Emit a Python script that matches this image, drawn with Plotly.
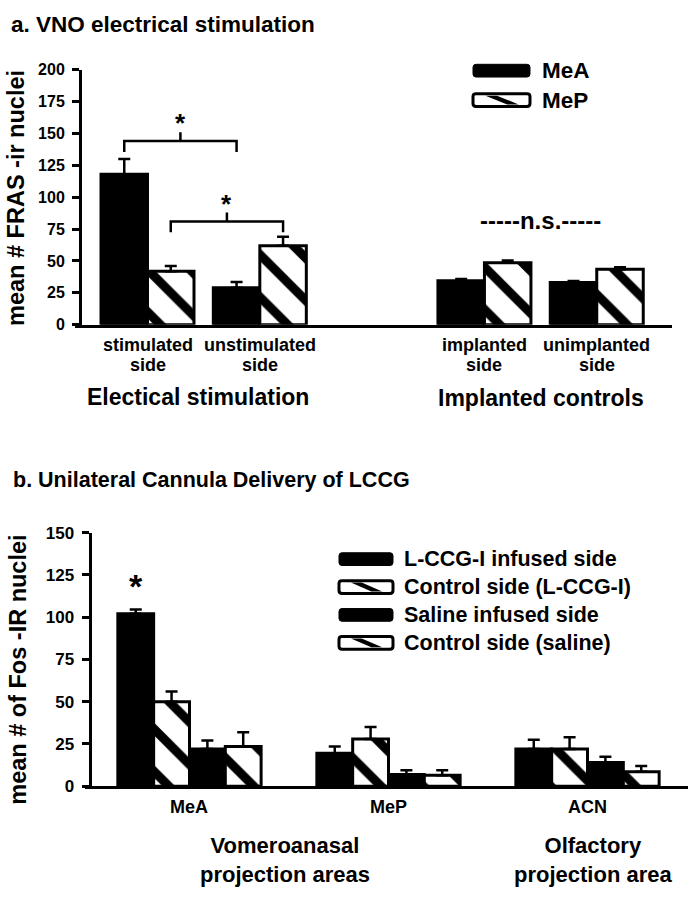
import plotly.graph_objects as go

W, H = 691, 899
FONT = "Liberation Sans, Arial, Helvetica, sans-serif"

# ---------------- data: panel a ----------------
a_groups = ["stimulated<br>side", "unstimulated<br>side", "implanted<br>side", "unimplanted<br>side"]
a_pos = [0, 1, 3, 4]
a_series = ["MeA", "MeP"]
a_mea = [118, 29, 34.5, 33]
a_mea_err = [12, 4.5, 1.3, 1.2]
a_mep = [42, 62, 48.5, 43.5]
a_mep_err = [4, 7, 1.8, 1.5]
a_ticks = [0, 25, 50, 75, 100, 125, 150, 175, 200]
a_sections = ["Electical stimulation", "Implanted controls"]
a_title = "a. VNO electrical stimulation"
a_ytitle = "mean # FRAS -ir nuclei"
# significance brackets: (group index left, group index right, series index, level)
a_sig = [(0, 1, 0, 144), (0, 1, 1, 81)]
a_ns = "-----n.s.-----"

# ---------------- data: panel b ----------------
b_groups = ["MeA", "MeP", "ACN"]
b_pos = [0, 1, 2]
b_series = ["L-CCG-I infused side", "Control side (L-CCG-I)", "Saline infused side", "Control side (saline)"]
b_lccg = [102, 19.5, 22]
b_lccg_err = [2.5, 4, 5.5]
b_ctl_lccg = [50, 28, 22]
b_ctl_lccg_err = [6, 7, 7]
b_saline = [22, 7, 14]
b_saline_err = [5, 2.5, 3.5]
b_ctl_saline = [23.5, 6.5, 8.5]
b_ctl_saline_err = [8.5, 3, 3.5]
b_ticks = [0, 25, 50, 75, 100, 125, 150]
b_sections = ["Vomeroanasal<br>projection areas", "Olfactory<br>projection area"]
b_title = "b. Unilateral Cannula Delivery of LCCG"
b_ytitle = "mean # of Fos -IR nuclei"


def px(x):
    return x / W


def py(y):
    return 1 - y / H


def bold(size):
    return dict(family=FONT, size=size, color="black", weight="bold")


solid = dict(color="black", line=dict(color="black", width=3))
striped = dict(color="white", line=dict(color="black", width=3),
               pattern=dict(shape="\\", fgcolor="black", fgopacity=1, size=30, solidity=0.3,
                            fillmode="overlay"))


def err(arr):
    return dict(type="data", array=arr, arrayminus=[0] * len(arr), symmetric=False,
                color="black", thickness=2.5, width=6)


fig = go.Figure()

# panel a bars
AW = 0.414
a_vals = [a_mea, a_mep]
a_errs = [a_mea_err, a_mep_err]
a_styles = [solid, striped]
for i, name in enumerate(a_series):
    fig.add_trace(go.Bar(x=a_pos, y=a_vals[i], name=name, width=AW, offset=-AW + i * AW,
                         marker=a_styles[i], error_y=err(a_errs[i]),
                         xaxis="x", yaxis="y", showlegend=False))

# panel b bars
BW = 0.18
b_vals = [b_lccg, b_ctl_lccg, b_saline, b_ctl_saline]
b_errs = [b_lccg_err, b_ctl_lccg_err, b_saline_err, b_ctl_saline_err]
b_styles = [solid, striped, solid, striped]
for i, name in enumerate(b_series):
    fig.add_trace(go.Bar(x=b_pos, y=b_vals[i], name=name, width=BW, offset=-2 * BW + i * BW,
                         marker=b_styles[i], error_y=err(b_errs[i]),
                         xaxis="x2", yaxis="y2", showlegend=False))

shapes = []
annotations = []


def label(x, y, text, size, xref="paper", yref="paper", xanchor="center", **kw):
    annotations.append(dict(x=x, y=y, xref=xref, yref=yref, text=text, showarrow=False,
                            font=bold(size), xanchor=xanchor, yanchor="middle", **kw))


# significance brackets in panel a (data coords)
for gl, gr, s, lvl in a_sig:
    xl = a_pos[gl] - AW / 2 + s * AW
    xr = a_pos[gr] - AW / 2 + s * AW
    xm = (xl + xr) / 2
    drop = 8.5
    shapes.append(dict(type="path", xref="x", yref="y",
                       path=f"M{xl},{lvl - drop} L{xl},{lvl} L{xr},{lvl} L{xr},{lvl - drop}",
                       line=dict(color="black", width=2.5)))
    shapes.append(dict(type="line", xref="x", yref="y", x0=xm, x1=xm, y0=lvl, y1=lvl + 7,
                       line=dict(color="black", width=2.5)))
    label(xm, lvl + 14, "*", 26, xref="x", yref="y")

label((a_pos[2] + a_pos[3]) / 2, 82, a_ns, 24, xref="x", yref="y")

# star in panel b over first bar
label(b_pos[0] - 1.5 * BW, b_lccg[0] + b_lccg_err[0] + 14, "*", 34, xref="x2", yref="y2")


# category labels
def multiline(x, xref, text, y0, step, size):
    for k, line in enumerate(text.split("<br>")):
        label(x, py(y0 + k * step), line, size, xref=xref)


for p, g in zip(a_pos, a_groups):
    multiline(p, "x", g, 343, 20.5, 18)
multiline(px(198), "paper", a_sections[0], 396, 22, 23)
multiline((a_pos[2] + a_pos[3]) / 2, "x", a_sections[1], 397, 22, 23)

for p, g in zip(b_pos, b_groups):
    multiline(p, "x2", g, 815, 20, 18)
for xc, txt in zip([285, 593], b_sections):
    label(px(xc), py(869), txt, 22)

# titles
label(px(9), py(16), a_title, 22.5, xanchor="left")
label(px(11), py(481), b_title, 21.5, xanchor="left")
label(px(16), py(193), a_ytitle, 23.5, textangle=-90)
label(px(18), py(675), b_ytitle, 23.5, textangle=-90)


# custom legends
def rrect_path(x0, y0, x1, y1, r):
    pts = [("M", [(x0 + r, y0)]), ("L", [(x1 - r, y0)]), ("Q", [(x1, y0), (x1, y0 + r)]),
           ("L", [(x1, y1 - r)]), ("Q", [(x1, y1), (x1 - r, y1)]), ("L", [(x0 + r, y1)]),
           ("Q", [(x0, y1), (x0, y1 - r)]), ("L", [(x0, y0 + r)]), ("Q", [(x0, y0), (x0 + r, y0)])]
    s = ""
    for cmd, ps in pts:
        s += cmd + " ".join(f"{px(a):.5f},{py(b):.5f}" for a, b in ps) + " "
    return s + "Z"


def legend_item(x0, x1, yc, h, name, style, tx, size):
    y0, y1 = yc - h / 2, yc + h / 2
    if style is solid:
        shapes.append(dict(type="path", xref="paper", yref="paper", path=rrect_path(x0, y0, x1, y1, 3),
                           fillcolor="black", line=dict(color="black", width=1)))
    else:
        shapes.append(dict(type="path", xref="paper", yref="paper", path=rrect_path(x0, y0, x1, y1, 3),
                           fillcolor="white", line=dict(color="black", width=3)))
        w = x1 - x0
        pg = [(x0 + 0.22 * w, y0 + 2), (x0 + 0.42 * w, y0 + 2), (x0 + 0.80 * w, y1 - 2), (x0 + 0.60 * w, y1 - 2)]
        path = "M" + " L".join(f"{px(a):.5f},{py(b):.5f}" for a, b in pg) + " Z"
        shapes.append(dict(type="path", xref="paper", yref="paper", path=path,
                           fillcolor="black", line=dict(width=0)))
    label(px(tx), py(yc), name, size, xanchor="left")


for k, name in enumerate(a_series):
    legend_item(473, 530, 63 + 30 * k, 13, name, a_styles[k], 540, 22.5)
for k, name in enumerate(b_series):
    legend_item(339, 393, 562 + 28.5 * k, 13, name, b_styles[k], 402, 21.5)

axis_common = dict(showgrid=False, zeroline=False, showline=True, linecolor="black", linewidth=3,
                   fixedrange=True)

fig.update_layout(
    width=W, height=H, margin=dict(l=0, r=0, t=0, b=0),
    paper_bgcolor="white", plot_bgcolor="white", barmode="overlay",
    xaxis=dict(domain=[px(75), px(672)], range=[-0.6456, 4.670], anchor="y",
               showticklabels=False, ticks="", **axis_common),
    yaxis=dict(domain=[py(322.5), py(62)], range=[0, 200], anchor="free", position=px(80),
               tickvals=a_ticks, ticks="outside", ticklen=7, tickwidth=2.5, tickcolor="black",
               tickfont=bold(16), ticklabelstandoff=4, **axis_common),
    xaxis2=dict(domain=[px(85), px(688)], range=[-0.525, 2.505], anchor="y2",
                showticklabels=False, ticks="", **axis_common),
    yaxis2=dict(domain=[py(794), py(535)], range=[0, 150], anchor="free", position=px(89.5),
                tickvals=b_ticks, ticks="outside", ticklen=7, tickwidth=2.5, tickcolor="black",
                tickfont=bold(17), ticklabelstandoff=4, **axis_common),
    shapes=shapes, annotations=annotations,
)

fig.write_html("out.html", config={"displayModeBar": False},
               post_script="document.body.style.margin='0';document.body.style.padding='0';"
                           "document.documentElement.style.overflow='hidden';")
